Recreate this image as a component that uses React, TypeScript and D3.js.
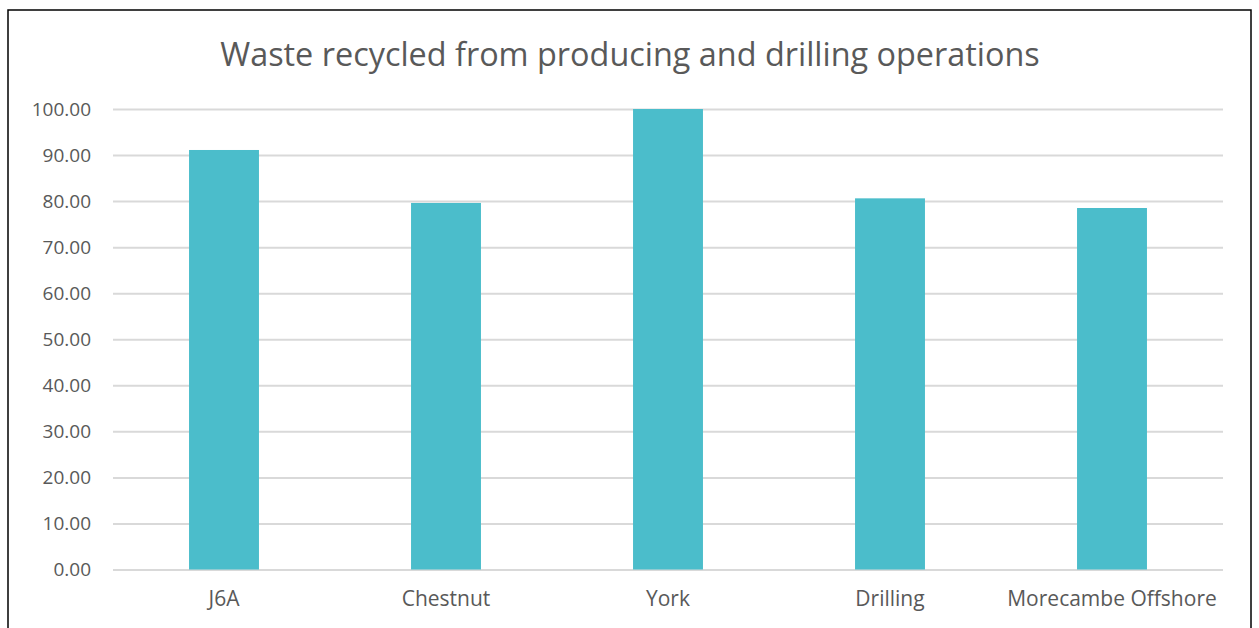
import React, { useRef, useEffect } from "react";
import * as d3 from "d3";

const categories = ["J6A", "Chestnut", "York", "Drilling", "Morecambe Offshore"];
const values = [91.1, 79.6, 100.0, 80.6, 78.5];
const yTicks = [0, 10, 20, 30, 40, 50, 60, 70, 80, 90, 100];
const title = "Waste recycled from producing and drilling operations";

const App: React.FC = () => {
    const svgRef = useRef<SVGSVGElement | null>(null);

    useEffect(() => {
        if (!svgRef.current) return;

        const width = 1259;
        const height = 628;
        const marginLeft = 113;
        const marginRight = 36;
        const marginTop = 109;
        const bottomY = 569.5;
        const font = "'Open Sans', sans-serif";
        const textColor = "#595959";

        const svg = d3.select(svgRef.current)
            .attr("width", width)
            .attr("height", height)
            .attr("viewBox", `0 0 ${width} ${height}`)
            .style("font-family", font);

        svg.selectAll("*").remove();

        svg.append("rect")
            .attr("width", width)
            .attr("height", height)
            .attr("fill", "#fff");

        // chart border
        svg.append("rect")
            .attr("x", 8)
            .attr("y", 10)
            .attr("width", 1243)
            .attr("height", 640)
            .attr("fill", "none")
            .attr("stroke", "#000")
            .attr("stroke-width", 1.5);

        const x = d3.scaleBand()
            .domain(categories)
            .range([marginLeft, width - marginRight])
            .paddingInner(0.685)
            .paddingOuter(0.3425);

        const y = d3.scaleLinear()
            .domain([0, 100])
            .range([bottomY, marginTop]);

        svg.append("text")
            .attr("x", 630)
            .attr("y", 66)
            .attr("text-anchor", "middle")
            .attr("fill", textColor)
            .attr("font-size", 32.4)
            .text(title);

        // gridlines + y labels
        const yAxis = svg.append("g")
            .attr("transform", `translate(${marginLeft},0)`)
            .call(d3.axisLeft(y).tickValues(yTicks).tickFormat(d3.format(".2f")).tickSize(0).tickPadding(22))
            .call(g => g.select(".domain").remove())
            .call(g => g.selectAll(".tick line").clone()
                .attr("x2", width - marginLeft - marginRight)
                .attr("stroke", "#d9d9d9")
                .attr("stroke-width", 2));
        yAxis.selectAll("text")
            .attr("fill", textColor)
            .attr("font-size", 19)
            .attr("font-family", font);

        svg.append("g")
            .selectAll("rect")
            .data(values)
            .join("rect")
            .attr("x", (_, i) => x(categories[i])!)
            .attr("y", d => y(d))
            .attr("width", x.bandwidth())
            .attr("height", d => y(0) - y(d))
            .attr("fill", "#4bbdcb");

        const xAxis = svg.append("g")
            .attr("transform", `translate(0,${bottomY})`)
            .call(d3.axisBottom(x).tickSize(0).tickPadding(22))
            .call(g => g.select(".domain").remove());
        xAxis.selectAll("text")
            .attr("fill", textColor)
            .attr("font-size", 21)
            .attr("font-family", font);
    }, []);

    return <svg ref={svgRef} style={{ position: "absolute", left: 0, top: 0, display: "block" }} />;
};

export default App;
